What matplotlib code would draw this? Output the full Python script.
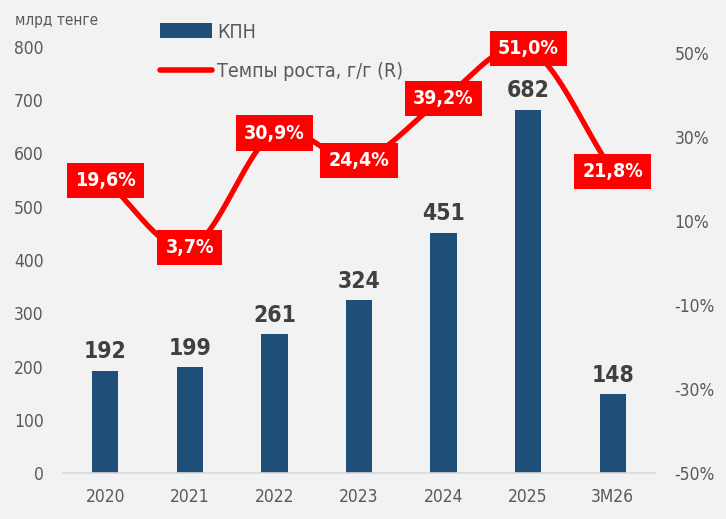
import numpy as np
import matplotlib.pyplot as plt
from matplotlib.lines import Line2D
from matplotlib.patches import Patch

categories = ['2020', '2021', '2022', '2023', '2024', '2025', '3M26']
kpn = [192, 199, 261, 324, 451, 682, 148]
growth = [19.6, 3.7, 30.9, 24.4, 39.2, 51.0, 21.8]
growth_labels = ['19,6%', '3,7%', '30,9%', '24,4%', '39,2%', '51,0%', '21,8%']
left_ticks = [0, 100, 200, 300, 400, 500, 600, 700, 800]
right_ticks = [-50, -30, -10, 10, 30, 50]

BG = '#F2F2F2'
BAR = '#1F4E79'
RED = '#FF0000'
GREY = '#595959'

plt.rcParams['font.family'] = ['DejaVu Sans']
FONT = dict(family='DejaVu Sans', stretch='condensed')


def smooth(xs, ys, n=30):
    # Catmull-Rom curve through the points, like Excel's smoothed line
    xs = np.asarray(xs, float)
    ys = np.asarray(ys, float)
    px = np.concatenate([[2 * xs[0] - xs[1]], xs, [2 * xs[-1] - xs[-2]]])
    py = np.concatenate([[2 * ys[0] - ys[1]], ys, [2 * ys[-1] - ys[-2]]])
    out_x, out_y = [], []
    t = np.linspace(0, 1, n)
    for i in range(1, len(px) - 2):
        for p, out in ((px, out_x), (py, out_y)):
            p0, p1, p2, p3 = p[i - 1], p[i], p[i + 1], p[i + 2]
            seg = 0.5 * ((2 * p1) + (-p0 + p2) * t + (2 * p0 - 5 * p1 + 4 * p2 - p3) * t ** 2
                         + (-p0 + 3 * p1 - 3 * p2 + p3) * t ** 3)
            out.extend(seg)
    return np.array(out_x), np.array(out_y)


fig = plt.figure(figsize=(7.26, 5.19), dpi=100, facecolor=BG)
ax = fig.add_axes([63 / 726, 1 - 473 / 519, 592 / 726, 426 / 519])
ax.set_facecolor(BG)
x = np.arange(len(categories))

ax.bar(x, kpn, width=0.31, color=BAR, zorder=2)
for xi, v in zip(x, kpn):
    ax.text(xi, v + 14, str(v), ha='center', va='bottom', fontsize=16.5,
            fontweight='bold', color='#404040', **FONT)

ax.set_xlim(-0.5, len(categories) - 0.5)
ax.set_ylim(0, 800)
ax.set_yticks(left_ticks)
ax.set_xticks(x)
ax.set_xticklabels(categories)
for s in ['top', 'right', 'left']:
    ax.spines[s].set_visible(False)
ax.spines['bottom'].set_color('#D9D9D9')
ax.spines['bottom'].set_linewidth(1.2)
ax.tick_params(axis='both', length=0, labelsize=12.5, labelcolor=GREY)
ax.tick_params(axis='y', pad=14)
ax.tick_params(axis='x', pad=11)
for lbl in ax.get_xticklabels() + ax.get_yticklabels():
    lbl.set_fontstretch('condensed')

ax2 = ax.twinx()
ax2.set_ylim(-50, 51.4)
ax2.set_yticks(right_ticks)
ax2.set_yticklabels([f'{t}%' for t in right_ticks])
for s in ax2.spines.values():
    s.set_visible(False)
ax2.tick_params(axis='y', length=0, labelsize=12.5, labelcolor=GREY, pad=14)
for lbl in ax2.get_yticklabels():
    lbl.set_fontstretch('condensed')

sx, sy = smooth(x, growth)
ax2.plot(sx, sy, color=RED, linewidth=3.8, solid_capstyle='round', zorder=3)
for xi, v, lab in zip(x, growth, growth_labels):
    ax2.text(xi, v, lab, ha='center', va='center', fontsize=14, fontweight='bold',
             color='white', zorder=4,
             bbox=dict(boxstyle='square,pad=0.42', facecolor=RED, edgecolor='none'), **FONT)

fig.text(15 / 726, 1 - 20 / 519, 'млрд тенге', ha='left', va='center', fontsize=11,
         color=GREY, **FONT)

handles = [Patch(facecolor=BAR, edgecolor='none'),
           Line2D([0], [0], color=RED, linewidth=4, solid_capstyle='round')]
leg = fig.legend(handles, ['КПН', 'Темпы роста, г/г (R)'], loc='upper left',
                 bbox_to_anchor=(142 / 726, 1 - 5 / 519), frameon=False,
                 labelcolor=GREY, handlelength=2.7, handleheight=0.8,
                 handletextpad=0.25, labelspacing=1.05,
                 prop=dict(family='DejaVu Sans', stretch='condensed', size=14))

fig.savefig('out.png', dpi=100, facecolor=BG)
